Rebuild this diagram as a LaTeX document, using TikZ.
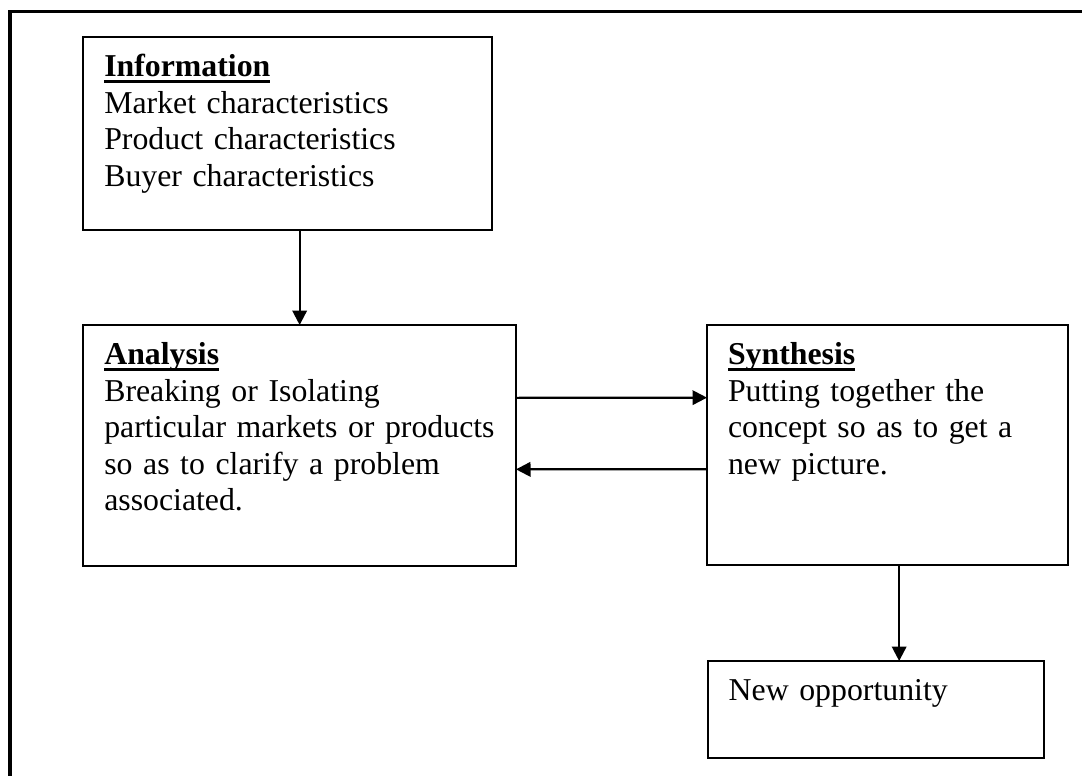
\documentclass[tikz,border=0pt]{standalone}
\usepackage{fontspec}
\setmainfont{Liberation Serif}
\usetikzlibrary{arrows.meta,positioning}
\newsavebox{\headbox}
\newcommand{\headline}[1]{\sbox{\headbox}{\textbf{#1}}\rlap{\rule[-6.5pt]{\wd\headbox}{3.4pt}}\usebox{\headbox}}

\begin{document}
\begin{tikzpicture}[x=1pt,y=-1pt,
  box/.style={draw,line width=2pt,rectangle,anchor=north west,outer sep=0pt,
    inner xsep=21pt,inner ysep=0pt,align=left,text height=39.5pt,
    font=\fontsize{31.8pt}{36.5pt}\selectfont},
  arr/.style={line width=2.2pt,-{Triangle[length=14.5pt,width=14.5pt]}}]
\useasboundingbox (0,0) rectangle (1082,776);
\draw[line width=3.5pt] (10,776) -- (10,11.7) -- (1082,11.7);
\node[box,text width=366.4pt,text depth=153.5pt] (info) at (83.3,37.3)
  {\headline{Information}\\Market characteristics\\Product characteristics\\Buyer characteristics};
\node[box,text width=390.7pt,text depth=201.2pt] (ana) at (83.3,325)
  {\headline{Analysis}\\Breaking or Isolating\\particular markets or products\\so as to clarify a problem\\associated.};
\node[box,text width=318.7pt,text depth=200.8pt] (syn) at (707,325)
  {\headline{Synthesis}\\Putting together the\\concept so as to get a\\new picture.};
\node[box,text width=294.3pt,text depth=57pt] (opp) at (707.7,661)
  {New opportunity};
\path ([xshift=11.8pt]syn.south) coordinate (dn);
\draw[arr] (info.south -| ana.north) -- (ana.north);
\draw[arr] ([yshift=47.5pt]ana.east) -- ([yshift=47.5pt]syn.west);
\draw[arr] ([yshift=-24pt]syn.west) -- ([yshift=-24pt]ana.east);
\draw[arr] (dn) -- (dn |- opp.north);
\end{tikzpicture}
\end{document}
